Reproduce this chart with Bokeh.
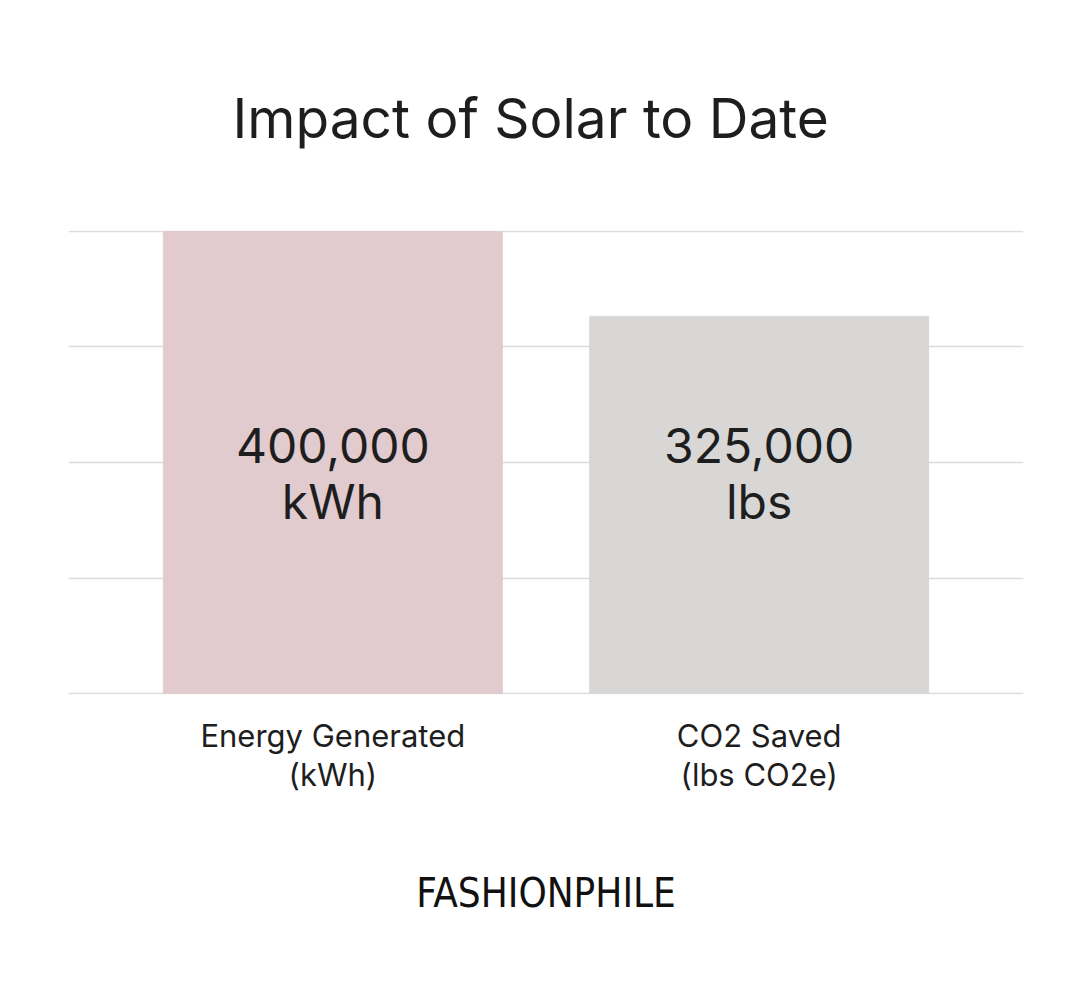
from bokeh.plotting import figure
from bokeh.models import FactorRange, FixedTicker, ColumnDataSource, Range1d
from bokeh.core.properties import value
from bokeh.embed import file_html
from bokeh.resources import INLINE

title_text = "Impact of Solar to Date"
categories = ["Energy Generated\n(kWh)", "CO2 Saved\n(lbs CO2e)"]
values = [400000, 326500]
bar_labels = ["400,000\nkWh", "325,000\nlbs"]
bar_colors = ["#E2CBCE", "#D8D7D6"]
grid_ticks = [0, 100000, 200000, 300000, 400000]
brand = "FASHIONPHILE"

FONT = "Inter"
TXT = "#1e1e1e"

eps = max(grid_ticks) * 0.002
p = figure(
    width=1080, height=995,
    x_range=FactorRange(factors=categories, range_padding=0.12),
    y_range=Range1d(min(grid_ticks) - eps, max(grid_ticks) + eps),
    output_backend="svg", toolbar_location=None,
    min_border_left=68, min_border_right=57,
    min_border_top=230, min_border_bottom=301,
    title=title_text,
)
p.outline_line_color = None
p.background_fill_color = "white"
p.border_fill_color = "white"

p.title.text_font = FONT
p.title.text_font_size = "55px"
p.title.text_font_style = "normal"
p.title.text_color = TXT
p.title.align = "left"
p.title.offset = 164
p.title.standoff = 160

src = ColumnDataSource(dict(x=categories, top=values, color=bar_colors,
                            label=bar_labels,
                            ly=[max(values) * 0.476] * len(values)))
p.vbar(x="x", top="top", width=0.795, color="color", source=src)
p.text(x="x", y="ly", text="label", source=src, text_align="center",
       text_baseline="middle", text_font=value(FONT), text_font_size="48px",
       text_color=TXT, text_line_height=0.94)

p.yaxis.visible = False
p.ygrid.ticker = FixedTicker(ticks=grid_ticks)
p.ygrid.grid_line_color = "#DCDCDC"
p.ygrid.grid_line_width = 1.5
p.xgrid.visible = False

xa = p.xaxis[0]
xa.axis_line_color = None
xa.major_tick_line_color = None
xa.minor_tick_line_color = None
xa.major_label_text_font = FONT
xa.major_label_text_font_size = "31px"
xa.major_label_text_color = TXT
xa.major_label_text_line_height = 1.07
xa.major_label_standoff = 16
xa.axis_label = brand
xa.axis_label_text_font = "'Liberation Sans Narrow', 'DejaVu Sans Condensed', 'Arial Narrow', sans-serif"
xa.axis_label_text_font_size = "40px"
xa.axis_label_text_font_style = "normal"
xa.axis_label_text_color = "#111111"
xa.axis_label_standoff = 74

open("out.html", "w").write(file_html(p, INLINE))
